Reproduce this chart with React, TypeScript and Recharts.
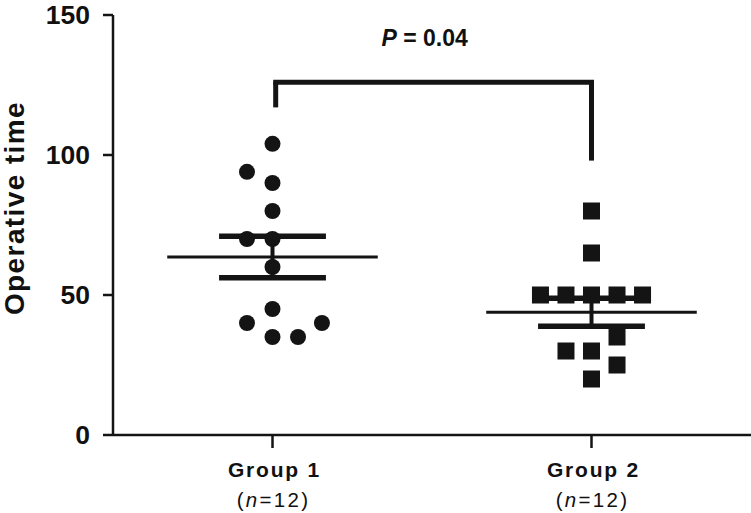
import React from 'react';
import {
  ScatterChart,
  Scatter,
  XAxis,
  YAxis,
  ReferenceLine,
  ReferenceDot,
} from 'recharts';

// ---- data ----
const categories = ['Group 1', 'Group 2'];
const sampleSizes = [12, 12];
const groupX = [1, 3];
const yTicks = [0, 50, 100, 150];

const group1Values = [104, 94, 90, 80, 70, 70, 60, 45, 40, 40, 35, 35];
const group1Jitter = [0, -0.16, 0, 0, -0.16, 0, 0, 0, -0.16, 0.31, 0, 0.16];
const group2Values = [80, 65, 50, 50, 50, 50, 50, 35, 30, 30, 25, 20];
const group2Jitter = [0, 0, -0.32, -0.16, 0, 0.16, 0.32, 0.16, -0.16, 0, 0.16, 0];

const means = [63.6, 43.8];
const sems = [7.4, 5.0];

const pValue = '0.04';
const bracketTop = 126;
const bracketEnds = [117, 98];

// ---- derived tables ----
const group1Data = group1Values.map((v, i) => ({ x: groupX[0] + group1Jitter[i], y: v }));
const group2Data = group2Values.map((v, i) => ({ x: groupX[1] + group2Jitter[i], y: v }));

const INK = '#141414';
const MEAN_HALF = 0.66;
const CAP_HALF = 0.335;

const CircleShape = (props: any) => (
  <circle cx={props.cx} cy={props.cy} r={8} fill={INK} />
);
const SquareShape = (props: any) => (
  <rect x={props.cx - 8.5} y={props.cy - 8.5} width={17} height={17} fill={INK} />
);

const XTick = (props: any) => {
  const { x, y, payload } = props;
  const i = groupX.indexOf(payload.value);
  if (i < 0) return null;
  return (
    <g>
      <text x={x + 2} y={y + 27} textAnchor="middle" fontWeight="bold" fontSize={21} letterSpacing={1.8} fill="#111">
        {categories[i]}
      </text>
      <text x={x + 1} y={y + 57} textAnchor="middle" fontSize={20.5} letterSpacing={2.3} fill="#111">
        (<tspan fontStyle="italic">n</tspan>={sampleSizes[i]})
      </text>
    </g>
  );
};

const YLabel = (props: any) => {
  const vb = props.viewBox || { x: 0, y: 15, width: 113, height: 420 };
  const cx = vb.x + 24;
  const cy = vb.y + vb.height / 2 - 17;
  return (
    <text
      x={cx}
      y={cy}
      transform={`rotate(-90, ${cx}, ${cy})`}
      textAnchor="middle"
      fontWeight="bold"
      fontSize={28}
      letterSpacing={1.4}
      fill="#111"
    >
      Operative time
    </text>
  );
};

const PLabel = (props: any) => {
  const vb = props.viewBox || { x: 0, y: 0 };
  return (
    <text x={vb.x} y={vb.y} textAnchor="middle" fontWeight="bold" fontSize={23} fill="#111">
      <tspan fontStyle="italic">P</tspan> = {pValue}
    </text>
  );
};

export default function App() {
  return (
    <div
      style={{
        position: 'absolute',
        left: 0,
        top: 0,
        width: 751,
        height: 513,
        background: '#fff',
        fontFamily: '"Liberation Sans", Arial, sans-serif',
      }}
    >
      <ScatterChart width={751} height={513} margin={{ top: 15, right: 0, bottom: 0, left: 0 }}>
        <XAxis
          type="number"
          dataKey="x"
          domain={[0, 4]}
          ticks={groupX}
          height={78}
          tickSize={13}
          tickMargin={2}
          axisLine={{ stroke: INK, strokeWidth: 2.5 }}
          tickLine={{ stroke: INK, strokeWidth: 2.5 }}
          tick={<XTick />}
          interval={0}
        />
        <YAxis
          type="number"
          dataKey="y"
          domain={[0, 150]}
          ticks={yTicks}
          width={113}
          tickSize={10}
          tickMargin={13}
          axisLine={{ stroke: INK, strokeWidth: 2.5 }}
          tickLine={{ stroke: INK, strokeWidth: 2.5 }}
          tick={{ fill: '#111', fontSize: 26.5, fontWeight: 'bold' }}
          interval={0}
          label={<YLabel />}
        />

        {/* mean lines */}
        {means.map((m, i) => (
          <ReferenceLine
            key={`mean${i}`}
            segment={[
              { x: groupX[i] - MEAN_HALF, y: m },
              { x: groupX[i] + MEAN_HALF, y: m },
            ]}
            stroke={INK}
            strokeWidth={3}
          />
        ))}
        {/* error bar stems */}
        {means.map((m, i) => (
          <ReferenceLine
            key={`stem${i}`}
            segment={[
              { x: groupX[i], y: m - sems[i] },
              { x: groupX[i], y: m + sems[i] },
            ]}
            stroke={INK}
            strokeWidth={4}
          />
        ))}
        {/* caps */}
        {means.map((m, i) =>
          [-1, 1].map((s) => (
            <ReferenceLine
              key={`cap${i}${s}`}
              segment={[
                { x: groupX[i] - CAP_HALF, y: m + s * sems[i] },
                { x: groupX[i] + CAP_HALF, y: m + s * sems[i] },
              ]}
              stroke={INK}
              strokeWidth={5.5}
            />
          ))
        )}

        {/* significance bracket */}
        <ReferenceLine
          segment={[
            { x: groupX[0] + 0.02, y: bracketTop },
            { x: groupX[1], y: bracketTop },
          ]}
          stroke={INK}
          strokeWidth={5}
          strokeLinecap="square"
        />
        <ReferenceLine
          segment={[
            { x: groupX[0] + 0.02, y: bracketTop },
            { x: groupX[0] + 0.02, y: bracketEnds[0] },
          ]}
          stroke={INK}
          strokeWidth={5}
        />
        <ReferenceLine
          segment={[
            { x: groupX[1], y: bracketTop },
            { x: groupX[1], y: bracketEnds[1] },
          ]}
          stroke={INK}
          strokeWidth={5}
        />
        <ReferenceDot x={1.96} y={138.5} r={1} fill="none" stroke="none" label={<PLabel />} />

        <Scatter data={group1Data} shape={<CircleShape />} isAnimationActive={false} />
        <Scatter data={group2Data} shape={<SquareShape />} isAnimationActive={false} />
      </ScatterChart>
    </div>
  );
}
